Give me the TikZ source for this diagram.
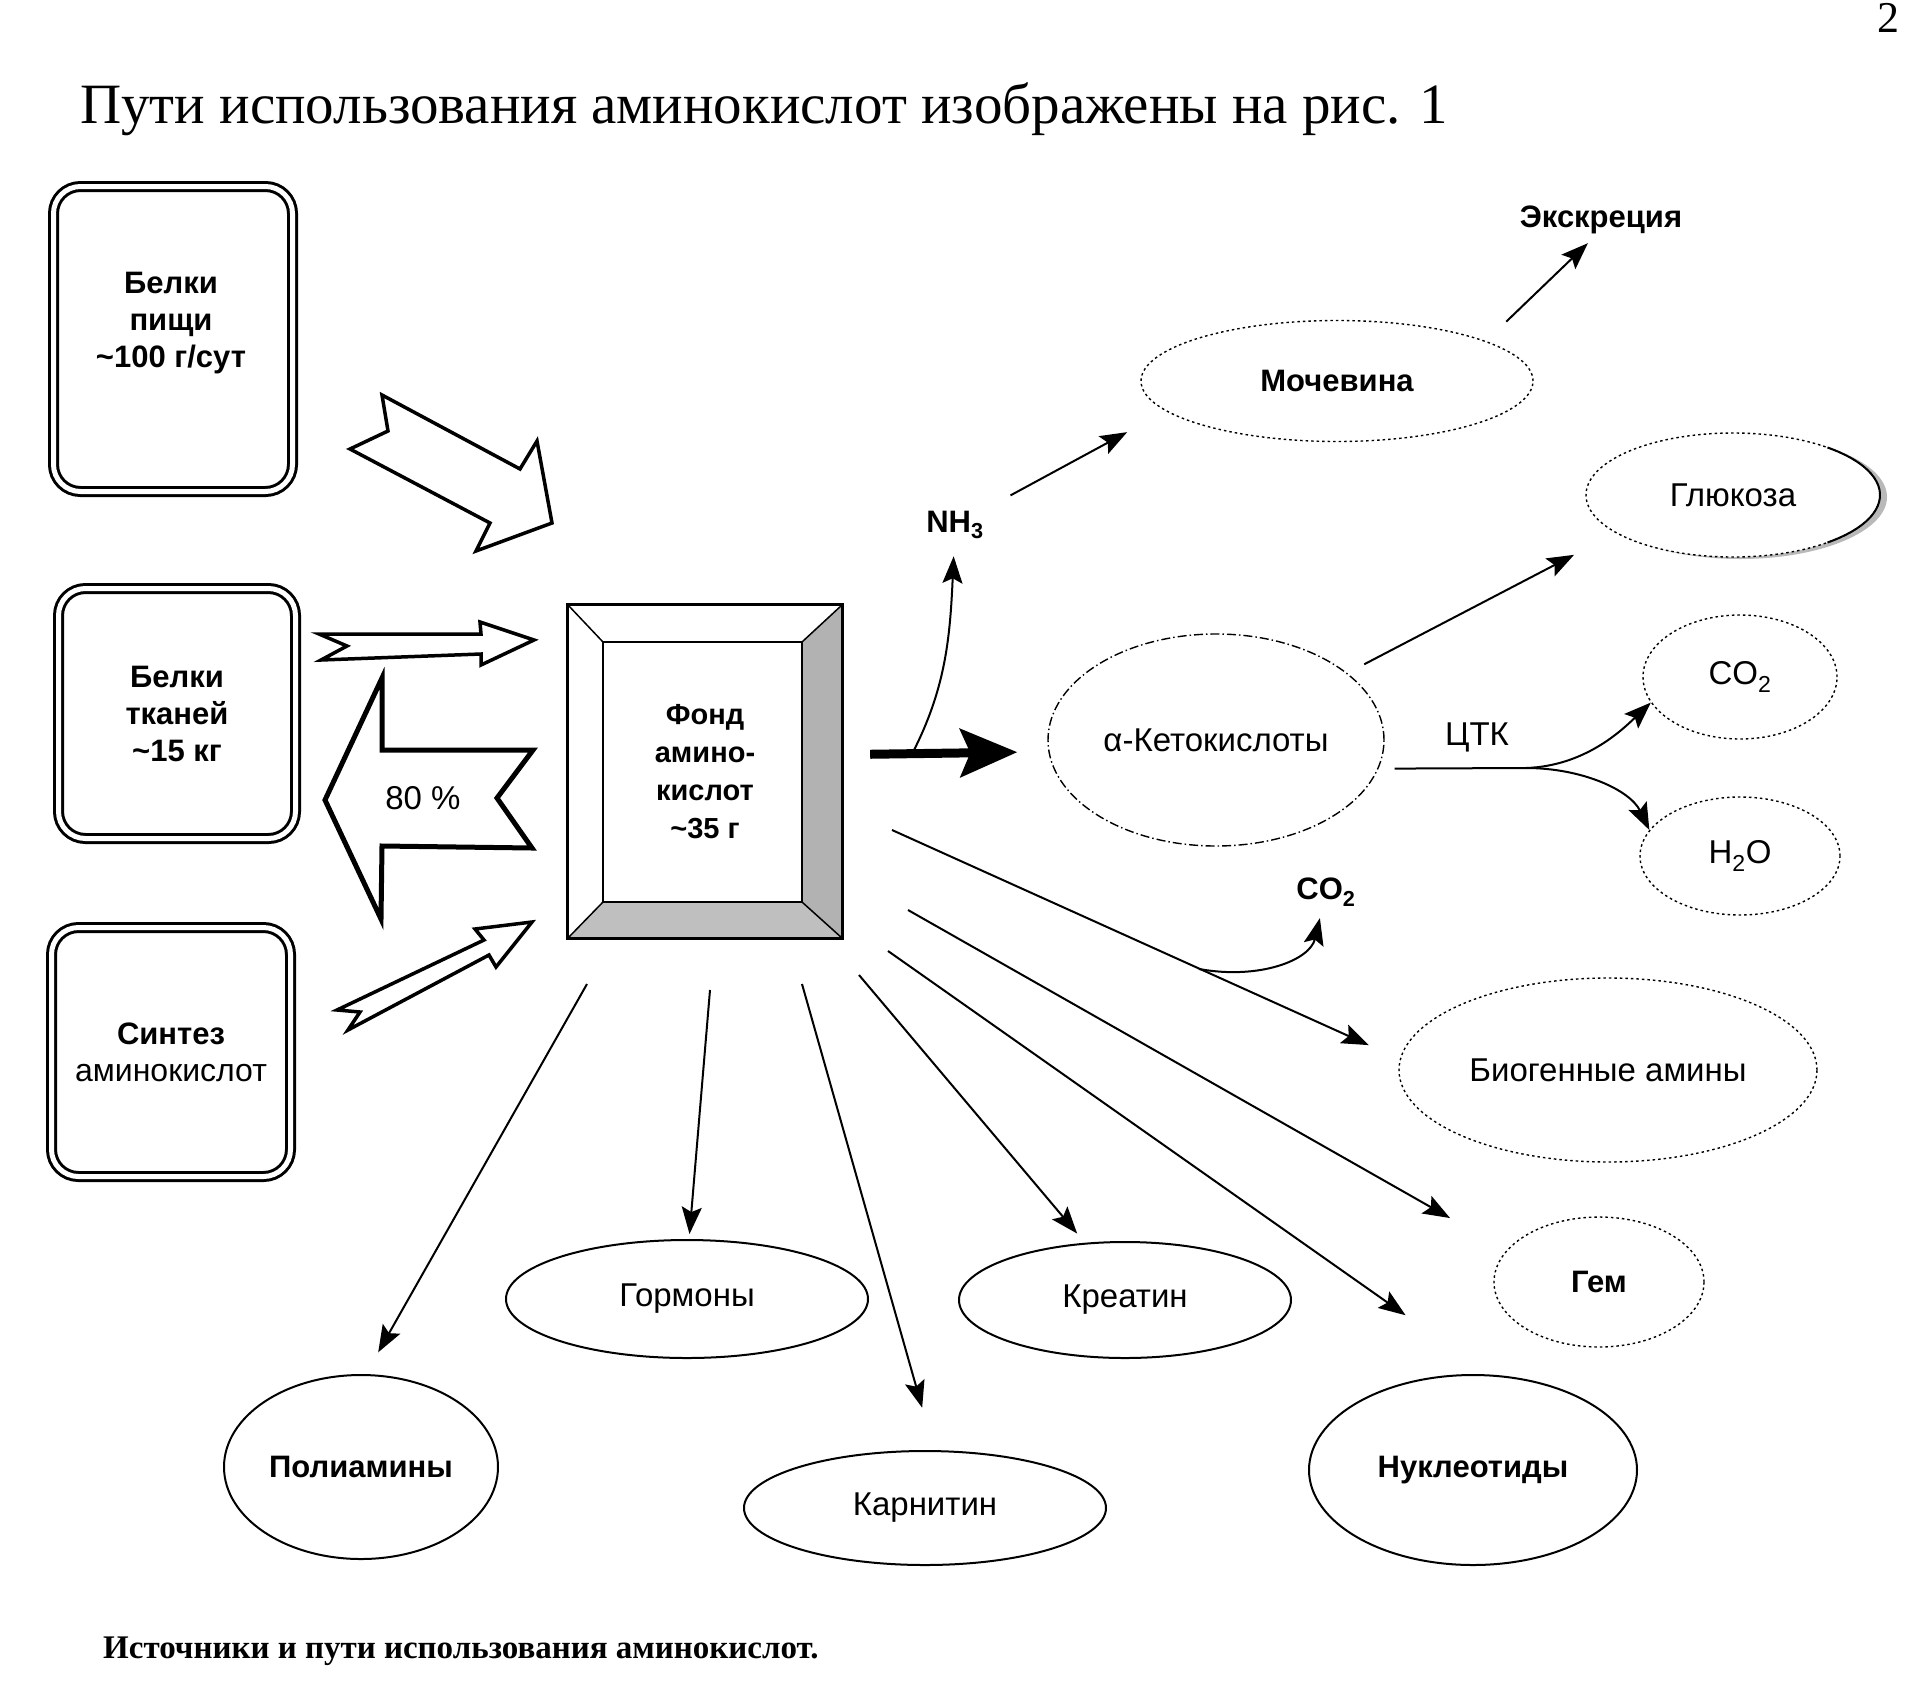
\documentclass[tikz,border=0pt]{standalone}
\usepackage{fontspec}
\setmainfont{Liberation Serif}
\newfontfamily\sansfont{Liberation Sans}
\usetikzlibrary{arrows.meta,shapes.geometric,calc}

\tikzset{
  srcbox/.style={draw, double, double distance=5pt, line width=3pt, rounded corners=27pt,
    minimum width=239pt, inner sep=0pt, align=center, font=\sansfont\bfseries\fontsize{31}{37}\selectfont},
  boxtxt/.style={align=center, inner sep=0pt, font=\sansfont\bfseries\fontsize{31}{37}\selectfont},
  oval/.style={ellipse, draw, fill=white, inner sep=0pt, line width=2pt, font=\sansfont\fontsize{33}{38}\selectfont},
  dotoval/.style={oval, line width=1.4pt, dash pattern=on 2.5pt off 3pt},
  lbl/.style={inner sep=2pt, font=\sansfont\fontsize{33}{38}\selectfont},
  boldtxt/.style={font=\sansfont\bfseries\fontsize{31}{36}\selectfont},
  flow/.style={line width=2pt, -{Stealth[length=27pt,width=20pt,inset=5pt]}},
  blockarrow/.style={line width=3.5pt, line join=miter, fill=white},
}

\begin{document}
\begin{tikzpicture}[x=1pt,y=-1pt]
\useasboundingbox (0,0) rectangle (1925,1687);
\fill [white] (0,0) rectangle (1925,1687);

\node [anchor=base west, inner sep=0pt, font=\fontsize{57}{68}\selectfont] (title) at (80,123) {Пути использования аминокислот изображены на рис. 1};
\node [anchor=base, inner sep=0pt, font=\fontsize{44}{50}\selectfont] (pagenum) at (1888,32) {2};
\node [anchor=base west, inner sep=0pt, font=\bfseries\fontsize{33}{38}\selectfont] (caption) at (103,1658) {Источники и пути использования аминокислот.};

% sources
\node [srcbox, minimum height=305pt] (food) at (173,339) {};
\node [boxtxt] (foodtxt) at (171,323) {Белки\\пищи\\\textasciitilde100 г/сут};
\node [srcbox, minimum width=237pt, minimum height=250pt] (tissue) at (177,713.5) {Белки\\тканей\\\textasciitilde15 кг};
\node [srcbox, minimum height=249pt] (synth) at (171,1052) {Синтез\\{\mdseries\fontsize{32}{37}\selectfont аминокислот}};

\draw [blockarrow] (382,395) -- (520,469) -- (537,441) -- (552,523) -- (476,551) -- (490,523) -- (350,449) -- (388,431) -- cycle;
\draw [blockarrow] (319,634) -- (481,634) -- (480,622) -- (534,640) -- (481,665) -- (481,654) -- (321,660) -- (347,646) -- cycle;
\draw [blockarrow, line width=5pt] (325,800) -- (382,678) -- (382,750) -- (533,750) -- (497,798) -- (532,848) -- (382,846) -- (381,919) -- cycle;
\draw [blockarrow] (337,1010) -- (484,940) -- (475,929) -- (532,922) -- (496,967) -- (489,955) -- (348,1030) -- (360,1012) -- cycle;
\node [lbl] (pct) at (423,798) {80 \%};

% pool
\node [minimum width=274pt, minimum height=333pt, inner sep=0pt, align=center,
  font=\sansfont\bfseries\fontsize{29}{38}\selectfont] (fond) at (705,771.5) {Фонд\\амино-\\кислот\\\textasciitilde35 г};
\coordinate (fa) at ($(fond.north west)+(35,37)$);
\coordinate (fb) at ($(fond.north east)+(-40,37)$);
\coordinate (fc) at ($(fond.south east)+(-40,-36)$);
\coordinate (fd) at ($(fond.south west)+(35,-36)$);
\fill [gray!60] (fond.north east) -- (fb) -- (fc) -- (fond.south east) -- cycle;
\fill [gray!50] (fond.south west) -- (fd) -- (fc) -- (fond.south east) -- cycle;
\draw [line width=2pt] (fa) rectangle (fc);
\draw [line width=1.5pt] (fond.north west) -- (fa) (fond.north east) -- (fb) (fond.south east) -- (fc) (fond.south west) -- (fd);
\draw [line width=3pt] (fond.north west) rectangle (fond.south east);

% products
\node [dotoval, boldtxt, minimum width=392pt, minimum height=121pt] (moch) at (1337,381) {Мочевина};
\fill [gray!55] (1740,497) ellipse (147 and 62);
\node [dotoval, minimum width=294pt, minimum height=124pt] (gluc) at (1733,495) {Глюкоза};
\draw [line width=2pt] (gluc.center) ++(-50:147 and 62) arc [start angle=-50, end angle=50, x radius=147, y radius=62];
\node [oval, line width=1.4pt, dash pattern=on 9pt off 3pt on 1.5pt off 3pt, minimum width=336pt, minimum height=212pt] (keto) at (1216,740) {α-Кетокислоты};
\node [dotoval, minimum width=194pt, minimum height=124pt] (co2a) at (1740,677) {CO\textsubscript{2}};
\node [dotoval, minimum width=200pt, minimum height=118pt] (h2o) at (1740,856) {H\textsubscript{2}O};
\node [dotoval, minimum width=418pt, minimum height=184pt] (bio) at (1608,1070) {Биогенные амины};
\node [dotoval, boldtxt, minimum width=210pt, minimum height=130pt] (gem) at (1599,1282) {Гем};
\node [oval, boldtxt, minimum width=328pt, minimum height=190pt] (nucl) at (1473,1470) {Нуклеотиды};
\node [oval, minimum width=332pt, minimum height=116pt] (crea) at (1125,1300) {Креатин};
\node [oval, minimum width=362pt, minimum height=118pt] (horm) at (687,1299) {Гормоны};
\node [oval, minimum width=362pt, minimum height=114pt] (carn) at (925,1508) {Карнитин};
\node [oval, boldtxt, minimum width=274pt, minimum height=184pt] (poly) at (361,1467) {Полиамины};

\node [lbl, boldtxt] (excr) at (1601,220) {Экскреция};
\node [lbl, boldtxt] (nh3) at (955,525) {NH\textsubscript{3}};
\node [lbl, boldtxt] (co2b) at (1326,892) {CO\textsubscript{2}};
\node [lbl] (ctk) at (1477,737) {ЦТК};

% connectors
\draw [line width=9pt, -{Stealth[length=57pt,width=48pt,inset=10pt]}, shorten <=28pt, shorten >=31pt] (fond.7) -- (keto.184);
\coordinate (nhbase) at (912,754);
\draw [flow, shorten >=15pt] (nhbase) .. controls (945,690) and (950,640) .. (nh3);
\draw [flow, shorten <=28pt, shorten >=44pt] (nh3.north east) -- (moch.190);
\draw [flow, shorten <=28pt, shorten >=10pt] (moch.15) -- (excr.-110);
\draw [flow, shorten <=19pt, shorten >=47pt] (keto.27) -- (gluc.198);
\coordinate (split) at (1526,768);
\draw [line width=2pt, shorten <=16pt] (keto.-10) -- (split);
\draw [flow] (split) .. controls (1585,766) and (1622,730) .. (co2a.196);
\draw [flow] (split) .. controls (1582,768) and (1630,790) .. (h2o.164);

\coordinate (spoly) at (587,984);
\coordinate (shorm) at (710,990);
\coordinate (scarn) at (802,984);
\coordinate (screa) at (859,975);
\coordinate (snucl) at (888,951);
\coordinate (sgem) at (908,910);
\coordinate (sbio) at (892,830);
\draw [flow, shorten >=25pt] (spoly) -- (poly.87);
\draw [flow, shorten >=5pt] (shorm) -- (horm.88);
\draw [flow, shorten >=44pt] (scarn) -- (carn.81);
\draw [flow, shorten >=12pt] (screa) -- (crea.125);
\draw [flow, shorten >=103pt] (snucl) -- (nucl.80);
\draw [flow, shorten >=65pt] (sgem) -- (gem.161);
\draw [flow, shorten >=34pt] (sbio) -- (bio.177);
\coordinate (bcur) at (1199,969);
\draw [flow, shorten >=10pt] (bcur) .. controls (1260,980) and (1310,960) .. (co2b);

\end{tikzpicture}
\end{document}
